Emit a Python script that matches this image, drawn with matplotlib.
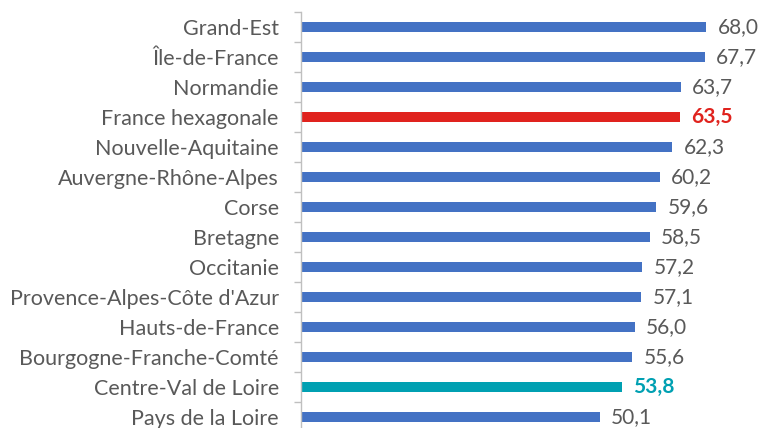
import matplotlib
matplotlib.use("Agg")
import matplotlib.pyplot as plt
import numpy as np

regions = ["Grand-Est", "Île-de-France", "Normandie", "France hexagonale",
           "Nouvelle-Aquitaine", "Auvergne-Rhône-Alpes", "Corse", "Bretagne",
           "Occitanie", "Provence-Alpes-Côte d'Azur", "Hauts-de-France",
           "Bourgogne-Franche-Comté", "Centre-Val de Loire", "Pays de la Loire"]
values = [68.0, 67.7, 63.7, 63.5, 62.3, 60.2, 59.6, 58.5, 57.2, 57.1, 56.0, 55.6, 53.8, 50.1]
highlight = {"France hexagonale": "#E0231E", "Centre-Val de Loire": "#00A0B2"}
base_color = "#4472C4"
text_color = "#595959"

plt.rcParams['font.family'] = ['Lato', 'DejaVu Sans']

fig = plt.figure(figsize=(7.6, 4.28), dpi=100)
ax = fig.add_axes([301/760, -4/428, (760-301)/760, (432-12)/428])

n = len(regions)
y = np.arange(n)
colors = [highlight.get(r, base_color) for r in regions]
ax.barh(y, values, height=0.34, color=colors)
ax.set_ylim(n - 0.5, -0.5)
ax.set_xlim(0, 77)

ax.set_yticks(y)
ax.set_yticklabels(regions, fontsize=15.5, color=text_color)
ax.tick_params(axis='y', which='major', length=0, pad=16)
ax.set_yticks(np.arange(-0.5, n, 1), minor=True)
ax.tick_params(axis='y', which='minor', length=5, color="#BFBFBF", width=1)
ax.set_xticks([])

for s in ["top", "right", "bottom"]:
    ax.spines[s].set_visible(False)
ax.spines["left"].set_color("#BFBFBF")
ax.spines["left"].set_linewidth(1)

for yi, v, r, c in zip(y, values, regions, colors):
    lab = f"{v:.1f}".replace(".", ",")
    if r in highlight:
        ax.text(v + 1.9, yi, lab, va='center', ha='left', fontsize=15,
                color=c, fontweight='bold')
    else:
        ax.text(v + 1.9, yi, lab, va='center', ha='left', fontsize=15,
                color=text_color)

fig.savefig("out.png", dpi=100)
